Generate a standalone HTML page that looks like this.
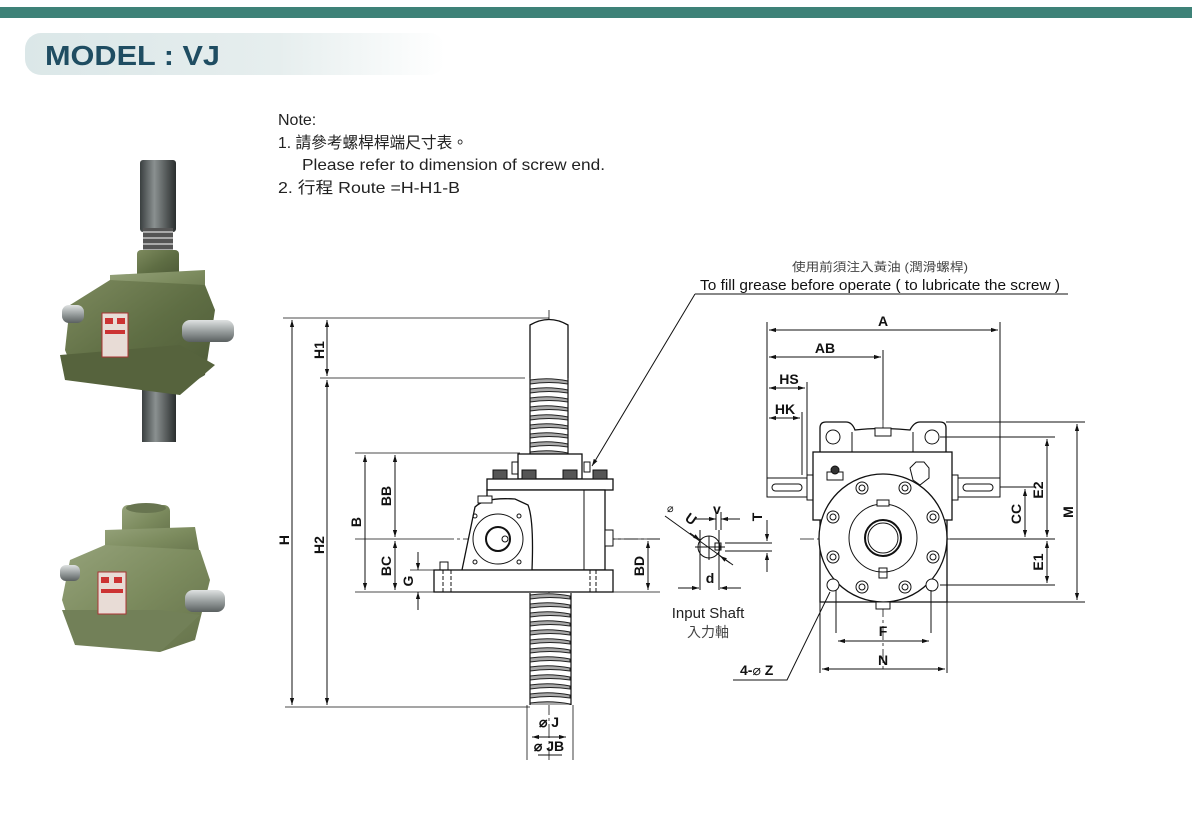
<!DOCTYPE html>
<html><head><meta charset="utf-8"><style>
html,body{margin:0;padding:0;background:#fff;}
body{width:1192px;height:820px;overflow:hidden;position:relative;font-family:"Liberation Sans","Noto Sans CJK TC",sans-serif;}
</style></head><body>
<svg width="1192" height="820" viewBox="0 0 1192 820" xmlns="http://www.w3.org/2000/svg" font-family="Liberation Sans, Noto Sans CJK TC, sans-serif">
<defs>
<linearGradient id="pill" x1="0" x2="1"><stop offset="0" stop-color="#dbe7e8"/><stop offset="0.6" stop-color="#e6eeee"/><stop offset="1" stop-color="#ffffff"/></linearGradient>
<linearGradient id="rod" x1="0" x2="1"><stop offset="0" stop-color="#3a3f40"/><stop offset="0.4" stop-color="#8a9090"/><stop offset="1" stop-color="#2a2e2e"/></linearGradient>
<linearGradient id="green" x1="0" x2="1" y1="0" y2="1"><stop offset="0" stop-color="#7d8a5e"/><stop offset="0.5" stop-color="#5f6e44"/><stop offset="1" stop-color="#4c5836"/></linearGradient>
<linearGradient id="green2" x1="0" x2="1" y1="0" y2="1"><stop offset="0" stop-color="#95a27a"/><stop offset="0.5" stop-color="#7c8b5e"/><stop offset="1" stop-color="#64714a"/></linearGradient>
<linearGradient id="steel" x1="0" x2="0" y1="0" y2="1"><stop offset="0" stop-color="#dfe2e2"/><stop offset="0.5" stop-color="#9aa0a0"/><stop offset="1" stop-color="#5a6060"/></linearGradient>
<pattern id="thr" width="40" height="9" patternUnits="userSpaceOnUse" x="529" y="378">
<rect width="40" height="9" fill="#fff"/>
<path d="M1 2 Q20 -1 39 3 L39 6 Q20 3 1 6 Z" fill="#aaa" stroke="#222" stroke-width="1"/>
</pattern>
<pattern id="thr2" width="42" height="9" patternUnits="userSpaceOnUse" x="529" y="593">
<rect width="42" height="9" fill="#fff"/>
<path d="M1 2 Q21 -1 41 3 L41 6 Q21 3 1 6 Z" fill="#aaa" stroke="#222" stroke-width="1"/>
</pattern>
<marker id="a" viewBox="0 0 10 10" refX="10" refY="5" markerWidth="7" markerHeight="7" orient="auto-start-reverse"><path d="M0 2 L10 5 L0 8 Z" fill="#111"/></marker>
</defs>

<!-- header -->
<rect x="0" y="7" width="1192" height="11" fill="#3e8278"/>
<rect x="25" y="33" width="420" height="42" rx="16" fill="url(#pill)"/>
<text x="45" y="65" font-size="28" font-weight="bold" fill="#1f4d62" textLength="175" lengthAdjust="spacingAndGlyphs">MODEL : VJ</text>

<!-- notes -->
<g font-size="16" fill="#222">
<text x="278" y="125">Note:</text>
<text x="278" y="148" textLength="190" lengthAdjust="spacingAndGlyphs">1. 請參考螺桿桿端尺寸表。</text>
<text x="302" y="170" textLength="303" lengthAdjust="spacingAndGlyphs">Please refer to dimension of screw end.</text>
<text x="278" y="193" textLength="182" lengthAdjust="spacingAndGlyphs">2. 行程 Route =H-H1-B</text>
</g>

<!-- photo 1 -->
<g>
<rect x="140" y="160" width="36" height="72" rx="3" fill="url(#rod)"/>
<rect x="143" y="228" width="30" height="30" fill="#555"/>
<path d="M143 232h30M143 238h30M143 244h30M143 250h30" stroke="#aaa" stroke-width="2"/>
<rect x="142" y="380" width="34" height="62" fill="url(#rod)"/>
<rect x="137" y="250" width="42" height="28" rx="4" fill="url(#green)"/>
<path d="M110 275 L205 270 L205 300 L110 305 Z" fill="url(#green2)"/>
<path d="M70 305 L110 280 L205 285 L215 310 L205 375 L180 390 L75 375 L65 350 Z" fill="url(#green)"/>
<path d="M60 355 L180 345 L215 365 L180 395 L65 380 Z" fill="#56633d"/>
<rect x="102" y="313" width="26" height="44" fill="#e8dcd6" stroke="#a33" stroke-width="1"/>
<rect x="105" y="318" width="8" height="6" fill="#c33"/><rect x="117" y="318" width="8" height="6" fill="#c33"/>
<rect x="105" y="330" width="20" height="4" fill="#c33"/>
<rect x="182" y="320" width="52" height="22" rx="8" fill="url(#steel)"/>
<rect x="62" y="305" width="22" height="18" rx="7" fill="url(#steel)"/>
</g>
<!-- photo 2 -->
<g>
<rect x="122" y="505" width="48" height="35" rx="6" fill="url(#green2)"/>
<ellipse cx="146" cy="508" rx="20" ry="5" fill="#687550"/>
<path d="M105 530 L195 527 L200 555 L105 558 Z" fill="url(#green2)"/>
<path d="M70 560 L105 545 L200 550 L210 580 L195 640 L160 652 L75 640 L62 600 Z" fill="url(#green2)"/>
<path d="M62 610 L160 610 L200 615 L160 652 L75 645 Z" fill="#728058"/>
<rect x="98" y="572" width="28" height="42" fill="#e8dcd6" stroke="#a33" stroke-width="1"/>
<rect x="101" y="577" width="8" height="6" fill="#c33"/><rect x="114" y="577" width="8" height="6" fill="#c33"/>
<rect x="101" y="589" width="22" height="4" fill="#c33"/>
<rect x="185" y="590" width="40" height="22" rx="8" fill="url(#steel)"/>
<rect x="60" y="565" width="20" height="16" rx="6" fill="url(#steel)"/>
</g>

<!-- ===== side view ===== -->
<g stroke="#111" fill="none" stroke-width="1">
<path d="M549 310 V760" stroke-dasharray="14 3 3 3" stroke-width="0.8"/>
<path d="M440 539 H660" stroke-dasharray="14 3 3 3" stroke-width="0.8"/>
<path d="M530 378 V325 Q549 314 568 325 V378" fill="#fff" stroke-width="1.3"/>
<rect x="530" y="378" width="39" height="76" fill="url(#thr)" stroke="none"/>
<path d="M530 378 V454 M568 378 V454" stroke-width="1.2"/>
<rect x="518" y="454" width="64" height="25" fill="#fff" stroke-width="1.3"/>
<rect x="512" y="462" width="6" height="12"/><rect x="584" y="462" width="6" height="10"/>
<rect x="487" y="479" width="126" height="11" fill="#fff" stroke-width="1.3"/>
<g fill="#555"><rect x="493" y="470" width="14" height="9"/><rect x="522" y="470" width="14" height="9"/><rect x="563" y="470" width="14" height="9"/><rect x="593" y="470" width="14" height="9"/></g>
<rect x="487" y="490" width="118" height="80" fill="#fff" stroke-width="1.3"/>
<path d="M584 490 V570 M605 490 V570" />
<rect x="605" y="530" width="8" height="16" fill="#fff"/>
<path d="M462 570 L475 507 Q485 497 515 499 L528 505 Q534 520 532 570" fill="#fff" stroke-width="1.3"/>
<circle cx="498" cy="539" r="25"/>
<circle cx="498" cy="539" r="12" stroke-width="2"/>
<circle cx="505" cy="539" r="3" fill="#fff"/>
<circle cx="475" cy="516" r="2"/><circle cx="519" cy="516" r="2"/><circle cx="475" cy="562" r="2"/><circle cx="519" cy="562" r="2"/>
<rect x="478" y="496" width="14" height="7" fill="#fff"/>
<rect x="440" y="562" width="8" height="9" fill="#fff"/>
<rect x="434" y="570" width="179" height="22" fill="#fff" stroke-width="1.3"/>
<path d="M443 570 V592 M451 570 V592 M590 570 V592 M596 570 V592" stroke-dasharray="4 2"/>
<rect x="530" y="593" width="41" height="112" fill="url(#thr2)" stroke="none"/>
<path d="M530 593 V705 M571 593 V705" stroke-width="1.2"/>
<path d="M527 705 V760 M573 705 V760" stroke-width="0.8"/>
<path d="M283 318 H549 M320 378 H525 M355 453 H520 M355 539 H440 M355 592 H434 M410 570 H440 M285 707 H530 M613 592 H660 M613 539 H660" stroke-width="0.7"/>
<path d="M292 320 V705" marker-start="url(#a)" marker-end="url(#a)"/>
<path d="M327 320 V376" marker-start="url(#a)" marker-end="url(#a)"/>
<path d="M327 380 V705" marker-start="url(#a)" marker-end="url(#a)"/>
<path d="M365 455 V590" marker-start="url(#a)" marker-end="url(#a)"/>
<path d="M395 455 V537" marker-start="url(#a)" marker-end="url(#a)"/>
<path d="M395 541 V590" marker-start="url(#a)" marker-end="url(#a)"/>
<path d="M418 552 V570" marker-end="url(#a)"/>
<path d="M418 610 V592" marker-end="url(#a)"/>
<path d="M648 541 V590" marker-start="url(#a)" marker-end="url(#a)"/>
<path d="M532 737 H566" marker-start="url(#a)" marker-end="url(#a)"/>
<path d="M538 755 H562"/>
<path d="M695 294 H1068 M695 294 L592 466" marker-end="url(#a)"/>
</g>
<g font-size="14" font-weight="bold" fill="#111">
<text transform="translate(289,540) rotate(-90)" text-anchor="middle">H</text>
<text transform="translate(324,350) rotate(-90)" text-anchor="middle">H1</text>
<text transform="translate(324,545) rotate(-90)" text-anchor="middle">H2</text>
<text transform="translate(361,522) rotate(-90)" text-anchor="middle">B</text>
<text transform="translate(391,496) rotate(-90)" text-anchor="middle">BB</text>
<text transform="translate(391,566) rotate(-90)" text-anchor="middle">BC</text>
<text transform="translate(413,581) rotate(-90)" text-anchor="middle">G</text>
<text transform="translate(644,566) rotate(-90)" text-anchor="middle">BD</text>
<text x="549" y="727" text-anchor="middle">⌀ J</text>
<text x="549" y="751" text-anchor="middle">⌀ JB</text>
</g>
<text x="880" y="271" font-size="12" fill="#444" text-anchor="middle" textLength="176" lengthAdjust="spacingAndGlyphs">使用前須注入黃油 (潤滑螺桿)</text>
<text x="880" y="290" font-size="15" fill="#111" text-anchor="middle" textLength="360" lengthAdjust="spacingAndGlyphs">To fill grease before operate ( to lubricate the screw )</text>

<!-- input shaft detail -->
<g stroke="#111" fill="none" stroke-width="1">
<circle cx="709" cy="547" r="11" fill="#fff"/>
<path d="M700 530 V590 M719 530 V590 M695 547 H725 M709 536 V560"/>
<rect x="715" y="543" width="6" height="7"/>
<path d="M665 516 L733 565" />
<path d="M690 533 L700 540" marker-end="url(#a)"/>
<path d="M730 563 L720 556" marker-end="url(#a)"/>
<path d="M695 519 H716" marker-end="url(#a)"/><path d="M740 519 H721" marker-end="url(#a)"/>
<path d="M716 512 V530 M721 512 V530"/>
<path d="M678 588 H699" marker-end="url(#a)"/><path d="M741 588 H720" marker-end="url(#a)"/>
<path d="M725 543 H772 M725 551 H772"/>
<path d="M767 520 V541" marker-end="url(#a)"/><path d="M767 572 V553" marker-end="url(#a)"/>
</g>
<g font-size="14" font-weight="bold" fill="#111">
<text transform="translate(684,520) rotate(35)" >U</text>
<text x="667" y="512" font-size="11" font-weight="normal">⌀</text>
<text x="713" y="514">v</text>
<text transform="translate(762,517) rotate(-90)" text-anchor="middle">T</text>
<text x="710" y="583" text-anchor="middle">d</text>
</g>
<text x="708" y="618" font-size="15" fill="#222" text-anchor="middle">Input Shaft</text>
<text x="708" y="637" font-size="14" fill="#444" text-anchor="middle">入力軸</text>

<!-- ===== front view ===== -->
<g stroke="#111" fill="none" stroke-width="1">
<path d="M883 350 V670" stroke-dasharray="14 3 3 3" stroke-width="0.8"/>
<path d="M800 539 H1000 M800 487 H1000" stroke-dasharray="14 3 3 3" stroke-width="0.8"/>
<rect x="767" y="478" width="40" height="19" fill="#fff"/><rect x="807" y="475" width="6" height="25" fill="#fff"/>
<rect x="772" y="484" width="30" height="7" rx="3.5"/>
<rect x="958" y="478" width="42" height="19" fill="#fff"/><rect x="952" y="475" width="6" height="25" fill="#fff"/>
<rect x="963" y="484" width="30" height="7" rx="3.5"/>
<path d="M820 452 V428 Q820 422 826 422 H846 Q852 422 855 430 Q880 427 910 430 Q914 422 920 422 H940 Q946 422 946 428 V452" fill="#fff" stroke-width="1.3"/>
<path d="M852 452 V432 M913 452 V432"/>
<circle cx="833" cy="437" r="7"/><circle cx="932" cy="437" r="7"/>
<rect x="875" y="428" width="16" height="8" fill="#fff"/>
<rect x="813" y="452" width="139" height="68" fill="#fff" stroke-width="1.3"/>
<path d="M820 520 V602 H947 V520" fill="#fff" stroke-width="1.3"/>
<path d="M813 520 H822 M943 520 H952"/>
<path d="M910 468 L916 462 L924 462 L929 468 L929 478 L920 485 L913 480 Z" />
<rect x="827" y="472" width="16" height="8"/><circle cx="835" cy="470" r="4" fill="#333"/>
<circle cx="883" cy="538" r="64" fill="#fff" stroke-width="1.3"/>
<circle cx="883" cy="538" r="34"/>
<circle cx="883" cy="538" r="18" stroke-width="2"/>
<circle cx="883" cy="538" r="15"/>
<g>
<circle cx="862" cy="488" r="6"/><circle cx="862" cy="488" r="3"/>
<circle cx="905" cy="488" r="6"/><circle cx="905" cy="488" r="3"/>
<circle cx="833" cy="517" r="6"/><circle cx="833" cy="517" r="3"/>
<circle cx="933" cy="517" r="6"/><circle cx="933" cy="517" r="3"/>
<circle cx="833" cy="557" r="6"/><circle cx="833" cy="557" r="3"/>
<circle cx="933" cy="557" r="6"/><circle cx="933" cy="557" r="3"/>
<circle cx="862" cy="587" r="6"/><circle cx="862" cy="587" r="3"/>
<circle cx="905" cy="587" r="6"/><circle cx="905" cy="587" r="3"/>
</g>
<circle cx="833" cy="585" r="6" fill="#fff"/><circle cx="932" cy="585" r="6" fill="#fff"/>
<rect x="877" y="500" width="12" height="6" fill="#fff"/><rect x="879" y="568" width="8" height="10"/>
<rect x="876" y="602" width="14" height="7" fill="#fff"/>
<path d="M767 322 V478 M1000 322 V478 M807 382 V475 M802 412 V475 M883 350 V420"/>
<path d="M946 422 H1085 M940 437 H1055 M1000 487 H1035 M947 602 H1085 M940 585 H1055 M950 539 H1055"/>
<path d="M820 602 V673 M947 602 V673 M836 590 V633 M931 590 V633"/>
<path d="M769 330 H998" marker-start="url(#a)" marker-end="url(#a)"/>
<path d="M769 357 H881" marker-start="url(#a)" marker-end="url(#a)"/>
<path d="M769 388 H805" marker-start="url(#a)" marker-end="url(#a)"/>
<path d="M769 418 H800" marker-start="url(#a)" marker-end="url(#a)"/>
<path d="M1047 439 V537" marker-start="url(#a)" marker-end="url(#a)"/>
<path d="M1047 541 V583" marker-start="url(#a)" marker-end="url(#a)"/>
<path d="M1025 489 V537" marker-start="url(#a)" marker-end="url(#a)"/>
<path d="M1077 424 V600" marker-start="url(#a)" marker-end="url(#a)"/>
<path d="M838 641 H929" marker-start="url(#a)" marker-end="url(#a)"/>
<path d="M822 669 H945" marker-start="url(#a)" marker-end="url(#a)"/>
<path d="M733 680 H787 L830 592" />
</g>
<g font-size="14" font-weight="bold" fill="#111">
<text x="883" y="326" text-anchor="middle">A</text>
<text x="825" y="353" text-anchor="middle">AB</text>
<text x="789" y="384" text-anchor="middle">HS</text>
<text x="785" y="414" text-anchor="middle">HK</text>
<text transform="translate(1043,490) rotate(-90)" text-anchor="middle">E2</text>
<text transform="translate(1021,514) rotate(-90)" text-anchor="middle">CC</text>
<text transform="translate(1073,512) rotate(-90)" text-anchor="middle">M</text>
<text transform="translate(1043,562) rotate(-90)" text-anchor="middle">E1</text>
<text x="883" y="636" text-anchor="middle">F</text>
<text x="883" y="665" text-anchor="middle">N</text>
<text x="740" y="675">4-<tspan font-weight="normal">⌀</tspan> Z</text>
</g>
</svg>
</body></html>
